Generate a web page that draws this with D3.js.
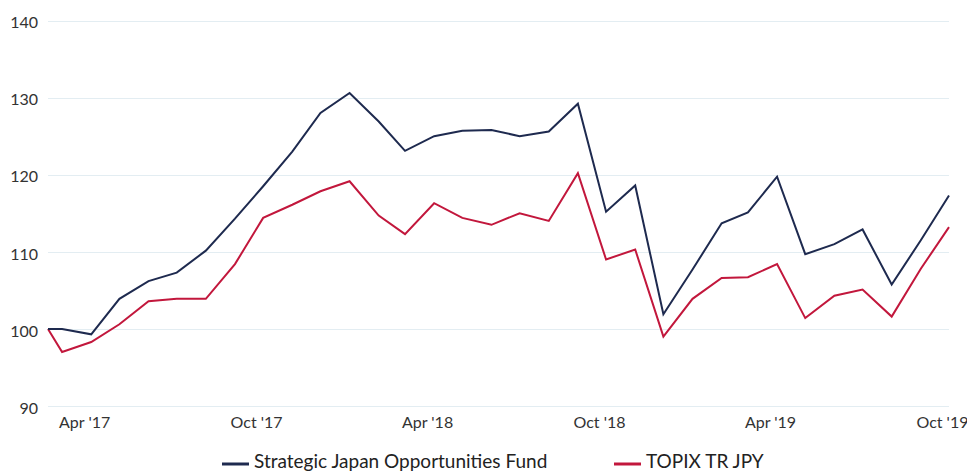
<!DOCTYPE html>
<html>
<head>
<meta charset="utf-8">
<script src="https://cdn.jsdelivr.net/npm/d3@7"></script>
<style>
  html, body { margin: 0; padding: 0; background: #fff; }
  svg { display: block; font-family: Lato, "Open Sans", sans-serif; }
</style>
</head>
<body>
<svg id="chart" width="967" height="473"></svg>
<script>
const dates = [
  "2017-02-13","2017-02-28","2017-03-31","2017-04-30","2017-05-31","2017-06-30","2017-07-31","2017-08-31","2017-09-30","2017-10-31","2017-11-30","2017-12-31",
  "2018-01-31","2018-02-28","2018-03-31","2018-04-30","2018-05-31","2018-06-30","2018-07-31","2018-08-31","2018-09-30","2018-10-31","2018-11-30","2018-12-31",
  "2019-01-31","2019-02-28","2019-03-31","2019-04-30","2019-05-31","2019-06-30","2019-07-31","2019-08-31","2019-09-30"
];
const fundValues = [100, 100, 99.3, 103.9, 106.2, 107.3, 110.15, 114.3, 118.5, 123.0, 128.0, 130.6,
  126.9, 123.1, 125.0, 125.7, 125.8, 125.0, 125.6, 129.2, 115.2, 118.6, 101.9, 107.7,
  113.7, 115.1, 119.75, 109.7, 111.0, 112.9, 105.75, 111.5, 117.3];
const indexValues = [100, 97.0, 98.3, 100.6, 103.6, 103.9, 103.9, 108.4, 114.4, 116.1, 117.85, 119.15,
  114.7, 112.3, 116.3, 114.4, 113.5, 115.0, 114.0, 120.2, 109.0, 110.3, 99.0, 103.9,
  106.6, 106.7, 108.4, 101.4, 104.3, 105.1, 101.6, 107.8, 113.2];
const seriesNames = ["Strategic Japan Opportunities Fund", "TOPIX TR JPY"];
const seriesColors = ["#1e2a4f", "#c2173c"];
const yTicks = [90, 100, 110, 120, 130, 140];
const xTickDates = ["2017-04-01","2017-10-01","2018-04-01","2018-10-01","2019-04-01","2019-10-01"];
const xTickLabels = ["Apr '17","Oct '17","Apr '18","Oct '18","Apr '19","Oct '19"];

const parse = d3.utcParse("%Y-%m-%d");
const xDates = dates.map(parse);

const svg = d3.select("#chart");
const x = d3.scaleUtc().domain([xDates[0], xDates[xDates.length - 1]]).range([48, 949]);
const y = d3.scaleLinear().domain([90, 140]).range([406, 20.5]);

// gridlines
svg.append("g").selectAll("line").data(yTicks).join("line")
  .attr("x1", 48).attr("x2", 949)
  .attr("y1", d => Math.round(y(d)) + 0.5).attr("y2", d => Math.round(y(d)) + 0.5)
  .attr("stroke", "#e3edf2").attr("stroke-width", 1);

// y axis labels
const yAxis = d3.axisLeft(y).tickValues(yTicks).tickSize(0).tickPadding(10);
const gy = svg.append("g").attr("transform", "translate(48,0)").call(yAxis);
gy.select(".domain").remove();
gy.selectAll("text").attr("font-size", 16).attr("fill", "#333").attr("font-family", "Lato, sans-serif").attr("dy", "0.45em");

// x axis labels
const xAxis = d3.axisBottom(x).tickValues(xTickDates.map(parse))
  .tickFormat((d, i) => xTickLabels[i]).tickSize(0).tickPadding(0);
const gx = svg.append("g").attr("transform", "translate(0,415)").call(xAxis);
gx.select(".domain").remove();
gx.selectAll("text").attr("font-size", 16).attr("fill", "#333").attr("font-family", "Lato, sans-serif")
  .attr("dx", -8).attr("dy", "0.8em");

// lines
const line = d3.line().x((d, i) => x(xDates[i])).y(d => y(d));
[indexValues, fundValues].forEach((vals, k) => {
  const ci = k === 0 ? 1 : 0;
  svg.append("path").datum(vals).attr("d", line)
    .attr("fill", "none").attr("stroke", seriesColors[ci]).attr("stroke-width", 2)
    .attr("stroke-linejoin", "miter");
});

// legend
const legendX = [222, 614];
const lg = svg.append("g");
seriesNames.forEach((name, i) => {
  lg.append("line").attr("x1", legendX[i]).attr("x2", legendX[i] + 27)
    .attr("y1", 464).attr("y2", 464)
    .attr("stroke", seriesColors[i]).attr("stroke-width", 3);
  lg.append("text").attr("x", legendX[i] + 32).attr("y", 468)
    .attr("font-size", 19).attr("fill", "#222").attr("font-family", "Lato, sans-serif")
    .text(name);
});
</script>
</body>
</html>
